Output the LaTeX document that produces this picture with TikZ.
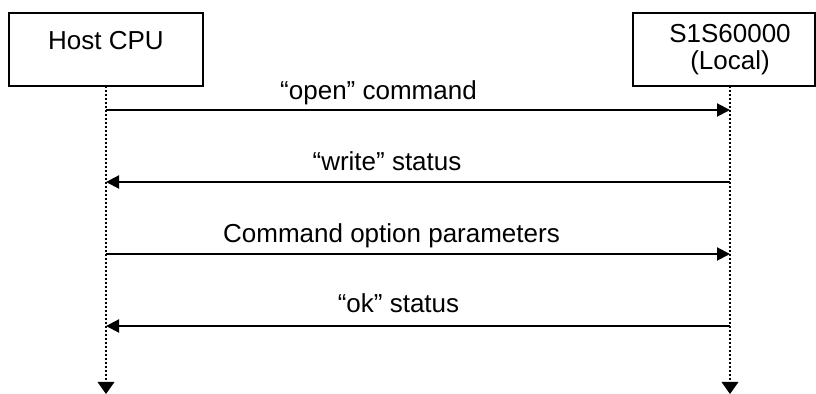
\documentclass[tikz,border=0pt]{standalone}
\usepackage{fontspec}
\setmainfont{Liberation Sans}
\usetikzlibrary{calc}
\usetikzlibrary{positioning}
\usetikzlibrary{arrows.meta}
\tikzstyle{boxnode} = [draw, line width=1pt, minimum width=97pt, minimum height=36.5pt]
\tikzstyle{boxtext} = [align=center, inner sep=0pt, font=\fontsize{13}{13.5}\selectfont]
\tikzstyle{lifeline} = [line width=1pt, dash pattern=on 1pt off 1pt, -{Triangle[length=6pt,width=8.5pt,line width=0pt,fill=black]}]
\tikzstyle{msg} = [line width=1pt, -{Triangle[length=6.5pt,width=6.5pt]}]
\tikzstyle{msglabel} = [anchor=base, inner sep=0pt, font=\fontsize{13}{13.5}\selectfont]

\begin{document}
\begin{tikzpicture}[x=0.5pt,y=-0.5pt]
    \useasboundingbox (0,0) rectangle (816,394);
    \node[boxnode] (host) at (106,49.5) {};
    \node[boxtext] (host_txt) at (106,41) {Host CPU};
    \node[boxnode, minimum width=91pt] (local) at (724,49.5) {};
    \node[boxtext] (local_txt) at (730,49.5) {S1S60000\\(Local)};
    \coordinate (host_top) at (106,86);
    \coordinate (host_end) at (106,394);
    \coordinate (local_top) at (730,86);
    \coordinate (local_end) at (730,394);
    \draw[lifeline] (host_top) -- (host_end);
    \draw[lifeline] (local_top) -- (local_end);
    % messages
    \coordinate (open_h) at (106,110);
    \coordinate (open_l) at (730,110);
    \coordinate (write_h) at (106,182);
    \coordinate (write_l) at (730,182);
    \coordinate (param_h) at (106,254);
    \coordinate (param_l) at (730,254);
    \coordinate (ok_h) at (106,326);
    \coordinate (ok_l) at (730,326);
    \draw[msg] (open_h) -- (open_l);
    \draw[msg] (write_l) -- (write_h);
    \draw[msg] (param_h) -- (param_l);
    \draw[msg] (ok_l) -- (ok_h);
    \node[msglabel] (open_lbl) at (378.5,100) {“open” command};
    \node[msglabel] (write_lbl) at (387,171) {“write” status};
    \node[msglabel] (param_lbl) at (391.5,243) {Command option parameters};
    \node[msglabel] (ok_lbl) at (398.5,313) {“ok” status};
\end{tikzpicture}
\end{document}
